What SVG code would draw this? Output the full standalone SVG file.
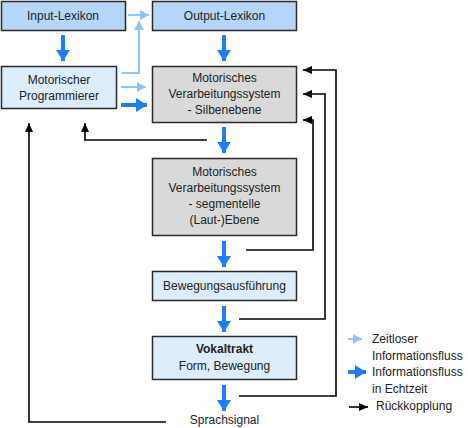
<svg xmlns="http://www.w3.org/2000/svg" width="468" height="428" viewBox="0 0 468 428">
<defs>
<style>
text{font-family:"Liberation Sans",Arial,sans-serif;font-size:12px;fill:#222;text-anchor:middle}
.lg{text-anchor:start}
.b1{fill:#b4d6fb;stroke:#2a2a2a;stroke-width:1.5}
.b2{fill:#dcedfc;stroke:#2a2a2a;stroke-width:1.5}
.g{fill:#d9d9d9;stroke:#2a2a2a;stroke-width:1.5}
.rt{stroke:#1b7ef8;stroke-width:4;fill:none}
.zl{stroke:#8cc3fb;stroke-width:2;fill:none}
.fb{stroke:#000;stroke-width:1.6;fill:none}
</style>
<marker id="mR" markerUnits="userSpaceOnUse" markerWidth="12" markerHeight="14" refX="11" refY="7" orient="auto"><path d="M0,0 L11,7 L0,14 Z" fill="#1b7ef8"/></marker>
<marker id="mZ" markerUnits="userSpaceOnUse" markerWidth="9" markerHeight="10" refX="9" refY="5" orient="auto"><path d="M0,0 L9,5 L0,10 Z" fill="#8cc3fb"/></marker>
<marker id="mF" markerUnits="userSpaceOnUse" markerWidth="9" markerHeight="8" refX="9" refY="4" orient="auto"><path d="M0,0 L9,4 L0,8 Z" fill="#000"/></marker>
</defs>
<g id="connectors">
<line class="rt" x1="63" y1="35" x2="63" y2="61" marker-end="url(#mR)"/>
<line class="rt" x1="224" y1="35" x2="224" y2="61" marker-end="url(#mR)"/>
<line class="rt" x1="224" y1="127" x2="224" y2="153" marker-end="url(#mR)"/>
<line class="rt" x1="224" y1="241" x2="224" y2="267" marker-end="url(#mR)"/>
<line class="rt" x1="224" y1="306" x2="224" y2="332" marker-end="url(#mR)"/>
<line class="rt" x1="224" y1="385" x2="224" y2="411" marker-end="url(#mR)"/>
<line class="rt" x1="121" y1="105" x2="147" y2="105" marker-end="url(#mR)"/>
<line class="zl" x1="128" y1="15" x2="149" y2="15" marker-end="url(#mZ)"/>
<polyline class="zl" points="122,73 139,73 139,21" marker-end="url(#mZ)"/>
<line class="zl" x1="121" y1="87" x2="146" y2="87" marker-end="url(#mZ)"/>
<polyline class="fb" points="246,250 313,250 313,120 303,120" marker-end="url(#mF)"/>
<polyline class="fb" points="239,319 325,319 325,94 303,94" marker-end="url(#mF)"/>
<polyline class="fb" points="239,396 336,396 336,70 303,70" marker-end="url(#mF)"/>
<polyline class="fb" points="207,140 85,140 85,123" marker-end="url(#mF)"/>
<polyline class="fb" points="166,422 29,422 29,123" marker-end="url(#mF)"/>
</g>
<g id="input-lexikon"><rect class="b1" x="1.5" y="1.5" width="124" height="29"/><text x="63" y="20">Input-Lexikon</text></g>
<g id="output-lexikon"><rect class="b1" x="152.5" y="1.5" width="144" height="29"/><text x="224.5" y="20">Output-Lexikon</text></g>
<g id="programmierer"><rect class="b2" x="1.5" y="66.5" width="115" height="42"/><text x="59" y="84">Motorischer</text><text x="59" y="100">Programmierer</text></g>
<g id="silbenebene"><rect class="g" x="152.5" y="66.5" width="144" height="56"/><text x="224.5" y="82">Motorisches</text><text x="224.5" y="98">Verarbeitungssystem</text><text x="224.5" y="114">- Silbenebene</text></g>
<g id="segmentelle"><rect class="g" x="152.5" y="158.5" width="144" height="77"/><text x="224.5" y="176">Motorisches</text><text x="224.5" y="192">Verarbeitungssystem</text><text x="224.5" y="208">- segmentelle</text><text x="224.5" y="224">(Laut-)Ebene</text></g>
<g id="bewegung"><rect class="b2" x="152.5" y="271.5" width="144" height="29"/><text x="224.5" y="290">Bewegungsausführung</text></g>
<g id="vokaltrakt"><rect class="b2" x="152.5" y="336.5" width="144" height="43"/><text x="224.5" y="353" font-weight="bold">Vokaltrakt</text><text x="224.5" y="370">Form, Bewegung</text></g>
<g id="sprachsignal"><text x="224.5" y="424">Sprachsignal</text></g>
<g id="legend">
<line class="zl" x1="348" y1="339" x2="362" y2="339" marker-end="url(#mZ)"/>
<line class="rt" x1="348" y1="372" x2="366" y2="372" marker-end="url(#mR)"/>
<line class="fb" x1="349" y1="407" x2="368" y2="407" marker-end="url(#mF)"/>
<text class="lg" x="372" y="343">Zeitloser</text>
<text class="lg" x="372" y="360">Informationsfluss</text>
<text class="lg" x="372" y="376">Informationsfluss</text>
<text class="lg" x="372" y="393">in Echtzeit</text>
<text class="lg" x="376" y="410">Rückkopplung</text>
</g>
</svg>
